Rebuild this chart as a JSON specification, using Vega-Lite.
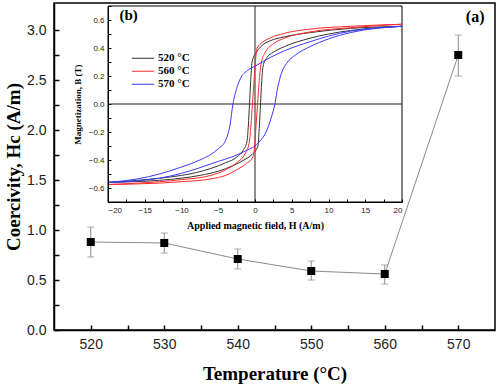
{
  "$schema": "https://vega.github.io/schema/vega-lite/v6.json",
  "width": 441,
  "height": 327,
  "autosize": "none",
  "padding": {"left": 54, "top": 3, "right": 5, "bottom": 58},
  "background": "white",
  "config": {
    "view": {"stroke": "black", "strokeWidth": 1.5},
    "axis": {"grid": false}
  },
  "datasets": {
    "hc": [
      {"T": 520, "Hc": 0.88, "lo": 0.73, "hi": 1.03},
      {"T": 530, "Hc": 0.87, "lo": 0.77, "hi": 0.97},
      {"T": 540, "Hc": 0.71, "lo": 0.61, "hi": 0.81},
      {"T": 550, "Hc": 0.59, "lo": 0.50, "hi": 0.69},
      {"T": 560, "Hc": 0.56, "lo": 0.46, "hi": 0.65},
      {"T": 570, "Hc": 2.75, "lo": 2.54, "hi": 2.95}
    ],
    "labA": [{"T": 572.3, "Hc": 3.13, "label": "(a)"}],
    "labB": [{"H": -17.2, "B": 0.635, "label": "(b)"}],
    "inframe": [
      {"part": "frame", "H": -20, "H2": 20, "B": -0.7, "B2": 0.7},
      {"part": "vline", "H": 0, "H2": 0, "B": -0.7, "B2": 0.7},
      {"part": "hline", "H": -20, "H2": 20, "B": 0, "B2": 0}
    ],
    "loops": [
      {"sample": "520 °C", "branch": "d", "H": 20, "B": 0.555},
      {"sample": "520 °C", "branch": "d", "H": 13, "B": 0.54},
      {"sample": "520 °C", "branch": "d", "H": 7.5, "B": 0.51},
      {"sample": "520 °C", "branch": "d", "H": 4, "B": 0.48},
      {"sample": "520 °C", "branch": "d", "H": 2, "B": 0.45},
      {"sample": "520 °C", "branch": "d", "H": 1, "B": 0.42},
      {"sample": "520 °C", "branch": "d", "H": 0.2, "B": 0.37},
      {"sample": "520 °C", "branch": "d", "H": -0.4, "B": 0.3},
      {"sample": "520 °C", "branch": "d", "H": -0.6, "B": 0.15},
      {"sample": "520 °C", "branch": "d", "H": -0.75, "B": 0},
      {"sample": "520 °C", "branch": "d", "H": -0.9, "B": -0.15},
      {"sample": "520 °C", "branch": "d", "H": -1.1, "B": -0.27},
      {"sample": "520 °C", "branch": "d", "H": -1.6, "B": -0.33},
      {"sample": "520 °C", "branch": "d", "H": -2.5, "B": -0.38},
      {"sample": "520 °C", "branch": "d", "H": -4, "B": -0.42},
      {"sample": "520 °C", "branch": "d", "H": -6, "B": -0.46},
      {"sample": "520 °C", "branch": "d", "H": -8, "B": -0.49},
      {"sample": "520 °C", "branch": "d", "H": -10, "B": -0.51},
      {"sample": "520 °C", "branch": "d", "H": -13, "B": -0.53},
      {"sample": "520 °C", "branch": "d", "H": -20, "B": -0.56},
      {"sample": "520 °C", "branch": "a", "H": -20, "B": -0.56},
      {"sample": "520 °C", "branch": "a", "H": -13, "B": -0.545},
      {"sample": "520 °C", "branch": "a", "H": -10, "B": -0.53},
      {"sample": "520 °C", "branch": "a", "H": -7.5, "B": -0.51},
      {"sample": "520 °C", "branch": "a", "H": -5, "B": -0.48},
      {"sample": "520 °C", "branch": "a", "H": -3, "B": -0.44},
      {"sample": "520 °C", "branch": "a", "H": -1.5, "B": -0.4},
      {"sample": "520 °C", "branch": "a", "H": -0.4, "B": -0.36},
      {"sample": "520 °C", "branch": "a", "H": 0.4, "B": -0.3},
      {"sample": "520 °C", "branch": "a", "H": 0.6, "B": -0.15},
      {"sample": "520 °C", "branch": "a", "H": 0.75, "B": 0},
      {"sample": "520 °C", "branch": "a", "H": 0.9, "B": 0.15},
      {"sample": "520 °C", "branch": "a", "H": 1.1, "B": 0.27},
      {"sample": "520 °C", "branch": "a", "H": 1.6, "B": 0.33},
      {"sample": "520 °C", "branch": "a", "H": 2.5, "B": 0.37},
      {"sample": "520 °C", "branch": "a", "H": 4, "B": 0.41},
      {"sample": "520 °C", "branch": "a", "H": 7.5, "B": 0.47},
      {"sample": "520 °C", "branch": "a", "H": 10, "B": 0.5},
      {"sample": "520 °C", "branch": "a", "H": 13, "B": 0.525},
      {"sample": "520 °C", "branch": "a", "H": 20, "B": 0.555},
      {"sample": "560 °C", "branch": "d", "H": 20, "B": 0.57},
      {"sample": "560 °C", "branch": "d", "H": 13, "B": 0.555},
      {"sample": "560 °C", "branch": "d", "H": 7.5, "B": 0.535},
      {"sample": "560 °C", "branch": "d", "H": 4, "B": 0.505},
      {"sample": "560 °C", "branch": "d", "H": 2, "B": 0.47},
      {"sample": "560 °C", "branch": "d", "H": 1, "B": 0.44},
      {"sample": "560 °C", "branch": "d", "H": 0.3, "B": 0.4},
      {"sample": "560 °C", "branch": "d", "H": 0.05, "B": 0.3},
      {"sample": "560 °C", "branch": "d", "H": -0.15, "B": 0.15},
      {"sample": "560 °C", "branch": "d", "H": -0.35, "B": 0},
      {"sample": "560 °C", "branch": "d", "H": -0.55, "B": -0.15},
      {"sample": "560 °C", "branch": "d", "H": -0.8, "B": -0.28},
      {"sample": "560 °C", "branch": "d", "H": -1.3, "B": -0.35},
      {"sample": "560 °C", "branch": "d", "H": -2.5, "B": -0.42},
      {"sample": "560 °C", "branch": "d", "H": -4, "B": -0.47},
      {"sample": "560 °C", "branch": "d", "H": -6, "B": -0.51},
      {"sample": "560 °C", "branch": "d", "H": -10, "B": -0.54},
      {"sample": "560 °C", "branch": "d", "H": -13, "B": -0.555},
      {"sample": "560 °C", "branch": "d", "H": -20, "B": -0.575},
      {"sample": "560 °C", "branch": "a", "H": -20, "B": -0.575},
      {"sample": "560 °C", "branch": "a", "H": -13, "B": -0.565},
      {"sample": "560 °C", "branch": "a", "H": -10, "B": -0.555},
      {"sample": "560 °C", "branch": "a", "H": -6, "B": -0.535},
      {"sample": "560 °C", "branch": "a", "H": -4, "B": -0.51},
      {"sample": "560 °C", "branch": "a", "H": -2.5, "B": -0.47},
      {"sample": "560 °C", "branch": "a", "H": -1.3, "B": -0.43},
      {"sample": "560 °C", "branch": "a", "H": -0.3, "B": -0.38},
      {"sample": "560 °C", "branch": "a", "H": -0.05, "B": -0.3},
      {"sample": "560 °C", "branch": "a", "H": 0.15, "B": -0.15},
      {"sample": "560 °C", "branch": "a", "H": 0.35, "B": 0},
      {"sample": "560 °C", "branch": "a", "H": 0.55, "B": 0.15},
      {"sample": "560 °C", "branch": "a", "H": 0.8, "B": 0.28},
      {"sample": "560 °C", "branch": "a", "H": 1.3, "B": 0.36},
      {"sample": "560 °C", "branch": "a", "H": 2.5, "B": 0.43},
      {"sample": "560 °C", "branch": "a", "H": 4, "B": 0.47},
      {"sample": "560 °C", "branch": "a", "H": 7.5, "B": 0.515},
      {"sample": "560 °C", "branch": "a", "H": 13, "B": 0.545},
      {"sample": "560 °C", "branch": "a", "H": 20, "B": 0.57},
      {"sample": "570 °C", "branch": "d", "H": 20, "B": 0.555},
      {"sample": "570 °C", "branch": "d", "H": 13, "B": 0.52},
      {"sample": "570 °C", "branch": "d", "H": 10, "B": 0.485},
      {"sample": "570 °C", "branch": "d", "H": 7.5, "B": 0.445},
      {"sample": "570 °C", "branch": "d", "H": 4, "B": 0.38},
      {"sample": "570 °C", "branch": "d", "H": 2, "B": 0.33},
      {"sample": "570 °C", "branch": "d", "H": 1, "B": 0.3},
      {"sample": "570 °C", "branch": "d", "H": 0, "B": 0.27},
      {"sample": "570 °C", "branch": "d", "H": -1, "B": 0.24},
      {"sample": "570 °C", "branch": "d", "H": -2, "B": 0.18},
      {"sample": "570 °C", "branch": "d", "H": -2.5, "B": 0.11},
      {"sample": "570 °C", "branch": "d", "H": -3, "B": 0},
      {"sample": "570 °C", "branch": "d", "H": -3.4, "B": -0.15},
      {"sample": "570 °C", "branch": "d", "H": -4, "B": -0.26},
      {"sample": "570 °C", "branch": "d", "H": -5, "B": -0.32},
      {"sample": "570 °C", "branch": "d", "H": -6, "B": -0.36},
      {"sample": "570 °C", "branch": "d", "H": -7.5, "B": -0.4},
      {"sample": "570 °C", "branch": "d", "H": -10, "B": -0.45},
      {"sample": "570 °C", "branch": "d", "H": -13, "B": -0.5},
      {"sample": "570 °C", "branch": "d", "H": -16, "B": -0.535},
      {"sample": "570 °C", "branch": "d", "H": -20, "B": -0.56},
      {"sample": "570 °C", "branch": "a", "H": -20, "B": -0.56},
      {"sample": "570 °C", "branch": "a", "H": -16, "B": -0.55},
      {"sample": "570 °C", "branch": "a", "H": -13, "B": -0.53},
      {"sample": "570 °C", "branch": "a", "H": -10, "B": -0.495},
      {"sample": "570 °C", "branch": "a", "H": -7.5, "B": -0.455},
      {"sample": "570 °C", "branch": "a", "H": -5, "B": -0.41},
      {"sample": "570 °C", "branch": "a", "H": -3, "B": -0.375},
      {"sample": "570 °C", "branch": "a", "H": -1.5, "B": -0.34},
      {"sample": "570 °C", "branch": "a", "H": 0.4, "B": -0.28},
      {"sample": "570 °C", "branch": "a", "H": 1.5, "B": -0.2},
      {"sample": "570 °C", "branch": "a", "H": 2.2, "B": -0.1},
      {"sample": "570 °C", "branch": "a", "H": 2.7, "B": 0},
      {"sample": "570 °C", "branch": "a", "H": 3.1, "B": 0.12},
      {"sample": "570 °C", "branch": "a", "H": 3.6, "B": 0.22},
      {"sample": "570 °C", "branch": "a", "H": 4.3, "B": 0.29},
      {"sample": "570 °C", "branch": "a", "H": 5.5, "B": 0.35},
      {"sample": "570 °C", "branch": "a", "H": 7.5, "B": 0.41},
      {"sample": "570 °C", "branch": "a", "H": 10, "B": 0.465},
      {"sample": "570 °C", "branch": "a", "H": 13, "B": 0.51},
      {"sample": "570 °C", "branch": "a", "H": 20, "B": 0.555}
    ]
  },
  "resolve": {
    "scale": {"x": "independent", "y": "independent", "color": "independent"},
    "axis": {"x": "independent", "y": "independent"}
  },
  "layer": [
    {
      "encoding": {
        "x": {
          "field": "T", "type": "quantitative",
          "scale": {"domain": [515, 575], "nice": false, "zero": false},
          "axis": {
            "orient": "bottom",
            "title": "Temperature (°C)",
            "values": [520, 525, 530, 535, 540, 545, 550, 555, 560, 565, 570],
            "labelExpr": "datum.value % 10 == 0 ? datum.label : ''",
            "format": "d",
            "tickSize": -5, "tickWidth": 1.5, "tickColor": "black",
            "domainColor": "black", "domainWidth": 1.5,
            "labelFont": "Liberation Sans", "labelFontSize": 14, "labelColor": "#222",
            "labelPadding": 12,
            "titleFont": "Liberation Serif", "titleFontWeight": "bold", "titleFontSize": 19, "titleColor": "black",
            "titlePadding": 13
          }
        },
        "y": {
          "field": "Hc", "type": "quantitative",
          "scale": {"domain": [0, 3.27], "nice": false},
          "axis": {
            "orient": "left",
            "title": "Coercivity, Hc (A/m)",
            "values": [0, 0.25, 0.5, 0.75, 1, 1.25, 1.5, 1.75, 2, 2.25, 2.5, 2.75, 3],
            "labelExpr": "(datum.value * 2) % 1 == 0 ? datum.label : ''",
            "format": ".1f",
            "tickSize": -5, "tickWidth": 1.5, "tickColor": "black",
            "domainColor": "black", "domainWidth": 1.5,
            "labelFont": "Liberation Sans", "labelFontSize": 14, "labelColor": "#222",
            "labelPadding": 13,
            "titleFont": "Liberation Serif", "titleFontWeight": "bold", "titleFontSize": 19, "titleColor": "black",
            "titlePadding": 3
          }
        }
      },
      "layer": [
        {
          "data": {"name": "hc"},
          "mark": {"type": "line", "color": "#8a8a8a", "strokeWidth": 1}
        },
        {
          "data": {"name": "hc"},
          "mark": {"type": "rule", "color": "#8a8a8a", "strokeWidth": 1},
          "encoding": {"y": {"field": "lo", "type": "quantitative", "title": "Coercivity, Hc (A/m)"}, "y2": {"field": "hi"}}
        },
        {
          "data": {"name": "hc"},
          "mark": {"type": "tick", "orient": "horizontal", "color": "#8a8a8a", "size": 7, "thickness": 1},
          "encoding": {"y": {"field": "lo", "type": "quantitative", "title": "Coercivity, Hc (A/m)"}}
        },
        {
          "data": {"name": "hc"},
          "mark": {"type": "tick", "orient": "horizontal", "color": "#8a8a8a", "size": 7, "thickness": 1},
          "encoding": {"y": {"field": "hi", "type": "quantitative", "title": "Coercivity, Hc (A/m)"}}
        },
        {
          "data": {"name": "hc"},
          "mark": {"type": "point", "shape": "square", "filled": true, "color": "black", "opacity": 1, "size": 64}
        },
        {
          "data": {"name": "labA"},
          "mark": {"type": "text", "font": "Liberation Serif", "fontWeight": "bold", "fontSize": 16, "color": "black", "align": "center", "baseline": "middle"},
          "encoding": {"text": {"field": "label"}}
        }
      ]
    },
    {
      "encoding": {
        "x": {
          "field": "H", "type": "quantitative",
          "scale": {"domain": [-20, 20], "nice": false, "zero": false, "range": [54, 348]},
          "axis": {
            "orient": "bottom", "offset": -128, "zindex": 1,
            "title": "Applied magnetic field, H (A/m)",
            "values": [-20, -17.5, -15, -12.5, -10, -7.5, -5, -2.5, 0, 2.5, 5, 7.5, 10, 12.5, 15, 17.5, 20],
            "labelExpr": "datum.value % 5 == 0 ? datum.label : ''",
            "format": "d",
            "tickSize": -3, "tickColor": "black", "tickWidth": 1,
            "domainColor": "black", "domainWidth": 1,
            "labelFont": "Liberation Sans", "labelFontSize": 8, "labelColor": "#222",
            "labelPadding": 7,
            "titleFont": "Liberation Serif", "titleFontWeight": "bold", "titleFontSize": 10, "titleColor": "black",
            "titlePadding": 6
          }
        },
        "y": {
          "field": "B", "type": "quantitative",
          "scale": {"domain": [-0.7, 0.7], "nice": false, "zero": false, "range": [199, 3]},
          "axis": {
            "orient": "left", "offset": -54, "zindex": 1,
            "title": "Magnetization, B (T)",
            "values": [-0.7, -0.6, -0.5, -0.4, -0.3, -0.2, -0.1, 0, 0.1, 0.2, 0.3, 0.4, 0.5, 0.6, 0.7],
            "labelExpr": "abs(round(datum.value * 10)) % 2 == 0 ? datum.label : ''",
            "format": ".1f",
            "tickSize": -3, "tickColor": "black", "tickWidth": 1,
            "domainColor": "black", "domainWidth": 1,
            "labelFont": "Liberation Sans", "labelFontSize": 8, "labelColor": "#222",
            "labelPadding": 7,
            "titleFont": "Liberation Serif", "titleFontWeight": "bold", "titleFontSize": 9, "titleColor": "black",
            "titlePadding": 6
          }
        }
      },
      "layer": [
        {
          "data": {"name": "inframe"},
          "transform": [{"filter": "datum.part == 'frame'"}],
          "mark": {"type": "rect", "fill": "white", "stroke": "black", "strokeWidth": 1},
          "encoding": {"x2": {"field": "H2"}, "y2": {"field": "B2"}}
        },
        {
          "data": {"name": "inframe"},
          "transform": [{"filter": "datum.part != 'frame'"}],
          "mark": {"type": "rule", "color": "#222", "strokeWidth": 1},
          "encoding": {"x2": {"field": "H2"}, "y2": {"field": "B2"}}
        },
        {
          "data": {"name": "loops"},
          "mark": {"type": "line", "strokeWidth": 1, "interpolate": "monotone"},
          "encoding": {
            "detail": {"field": "branch"},
            "color": {
              "field": "sample", "type": "nominal",
              "scale": {"domain": ["520 °C", "560 °C", "570 °C"], "range": ["#333333", "#ff2a2a", "#3a3aff"]},
              "legend": {
                "orient": "none", "legendX": 77, "legendY": 49,
                "title": null, "padding": 0,
                "symbolType": "stroke", "symbolSize": 500, "symbolStrokeWidth": 1,
                "clipHeight": 12.5, "rowPadding": 0, "labelOffset": 3,
                "labelFont": "Liberation Serif", "labelFontWeight": "bold", "labelFontSize": 11, "labelColor": "black"
              }
            }
          }
        },
        {
          "data": {"name": "labB"},
          "mark": {"type": "text", "font": "Liberation Serif", "fontWeight": "bold", "fontSize": 15, "color": "black", "align": "center", "baseline": "middle"},
          "encoding": {"text": {"field": "label"}}
        }
      ]
    }
  ]
}
